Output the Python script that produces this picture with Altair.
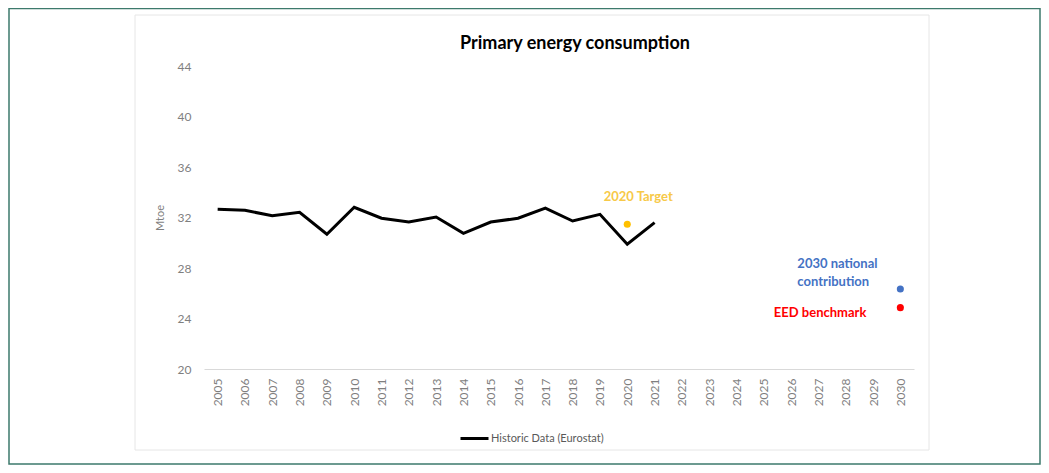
import altair as alt
import pandas as pd

# ---- data ----
years = list(range(2005, 2031))
hist_years = list(range(2005, 2022))
hist_values = [32.65, 32.57, 32.14, 32.41, 30.67, 32.81, 31.94, 31.64, 32.04,
               30.75, 31.64, 31.94, 32.75, 31.72, 32.25, 29.88, 31.59]
series_name = "Historic Data (Eurostat)"

target_year = [2020]
target_value = [31.46]
target_label = ["2020 Target"]

national_year = [2030]
national_value = [26.34]
national_label = ["2030 national\ncontribution"]

eed_year = [2030]
eed_value = [24.86]
eed_label = ["EED benchmark"]

y_ticks = [20, 24, 28, 32, 36, 40, 44]
chart_title = ["Primary energy consumption"]

FONT = "Lato"
GREY = "#7f7f7f"

hist_df = pd.DataFrame({"year": hist_years, "value": hist_values,
                        "series": [series_name] * len(hist_years)})
target_df = pd.DataFrame({"year": target_year, "value": target_value, "label": target_label})
national_df = pd.DataFrame({"year": national_year, "value": national_value, "label": national_label})
eed_df = pd.DataFrame({"year": eed_year, "value": eed_value, "label": eed_label})
title_df = pd.DataFrame({"label": chart_title})
frame_df = pd.DataFrame({"k": [0]})

xscale = alt.Scale(type="point", domain=years, padding=0.5)
yscale = alt.Scale(domain=[20, 44], nice=False, zero=False)

x_enc = alt.X("year:O", scale=xscale,
              axis=alt.Axis(title=None, labelAngle=-90, ticks=False, labelPadding=9,
                            labelColor=GREY, labelFont=FONT, labelFontSize=12,
                            domainColor="#d9d9d9", domainWidth=1, grid=False))
y_enc = alt.Y("value:Q", scale=yscale,
              axis=alt.Axis(title="Mtoe", values=y_ticks, ticks=False, domain=False, grid=False,
                            labelColor=GREY, labelFont=FONT, labelFontSize=12, labelPadding=13,
                            titleColor=GREY, titleFont=FONT, titleFontSize=11,
                            titleFontWeight="normal", titlePadding=12))

line = alt.Chart(hist_df).mark_line(strokeWidth=3, strokeJoin="miter").encode(
    x=x_enc, y=y_enc,
    color=alt.Color("series:N", scale=alt.Scale(domain=[series_name], range=["#000000"]),
                    legend=alt.Legend(title=None, orient="none", legendX=255, legendY=357,
                                      symbolType="stroke", symbolSize=784, symbolStrokeWidth=3,
                                      labelFont=FONT, labelFontSize=11, labelColor="#595959",
                                      labelOffset=1))
)

def pt(df, color):
    return alt.Chart(df).mark_circle(size=50, opacity=1, color=color).encode(
        x=alt.X("year:O", scale=xscale), y=alt.Y("value:Q", scale=yscale))

target_pt = pt(target_df, "#FFC000")
national_pt = pt(national_df, "#4472C4")
eed_pt = pt(eed_df, "#FF0000")

target_txt = alt.Chart(target_df).mark_text(
    font=FONT, fontSize=13, fontWeight="bold", color="#F7C948",
    align="center", baseline="middle", dx=11, dy=-27
).encode(x=alt.X("year:O", scale=xscale), y=alt.Y("value:Q", scale=yscale), text="label:N")

national_txt = alt.Chart(national_df).mark_text(
    font=FONT, fontSize=13, fontWeight="bold", color="#4472C4", lineBreak="\n", lineHeight=18,
    align="left", baseline="top", dx=-103, dy=-31
).encode(x=alt.X("year:O", scale=xscale), y=alt.Y("value:Q", scale=yscale), text="label:N")

eed_txt = alt.Chart(eed_df).mark_text(
    font=FONT, fontSize=13, fontWeight="bold", color="#FF0000",
    align="right", baseline="middle", dx=-34, dy=5
).encode(x=alt.X("year:O", scale=xscale), y=alt.Y("value:Q", scale=yscale), text="label:N")

title_txt = alt.Chart(title_df).mark_text(
    font=FONT, fontSize=18, fontWeight="bold", color="#000000",
    align="center", baseline="middle"
).encode(x=alt.value(371), y=alt.value(-22), text="label:N")

outer = alt.Chart(frame_df).mark_rect(fill=None, stroke="#3d7a6c", strokeWidth=1.5).encode(
    x=alt.value(-195), x2=alt.value(836), y=alt.value(-57.5), y2=alt.value(398))
inner = alt.Chart(frame_df).mark_rect(fill=None, stroke="#e6e6e6", strokeWidth=1).encode(
    x=alt.value(-69), x2=alt.value(725), y=alt.value(-51), y2=alt.value(384))

chart = alt.layer(
    outer, inner, line, target_pt, national_pt, eed_pt, target_txt, national_txt, eed_txt, title_txt
).properties(
    width=710, height=303,
    padding={"left": 196, "top": 58, "right": 127, "bottom": 96},
    autosize=alt.AutoSizeParams(type="none"),
    background="white",
).configure_view(strokeWidth=0, stroke="transparent")

chart.save("out.html", embed_options={"renderer": "svg", "actions": False})
